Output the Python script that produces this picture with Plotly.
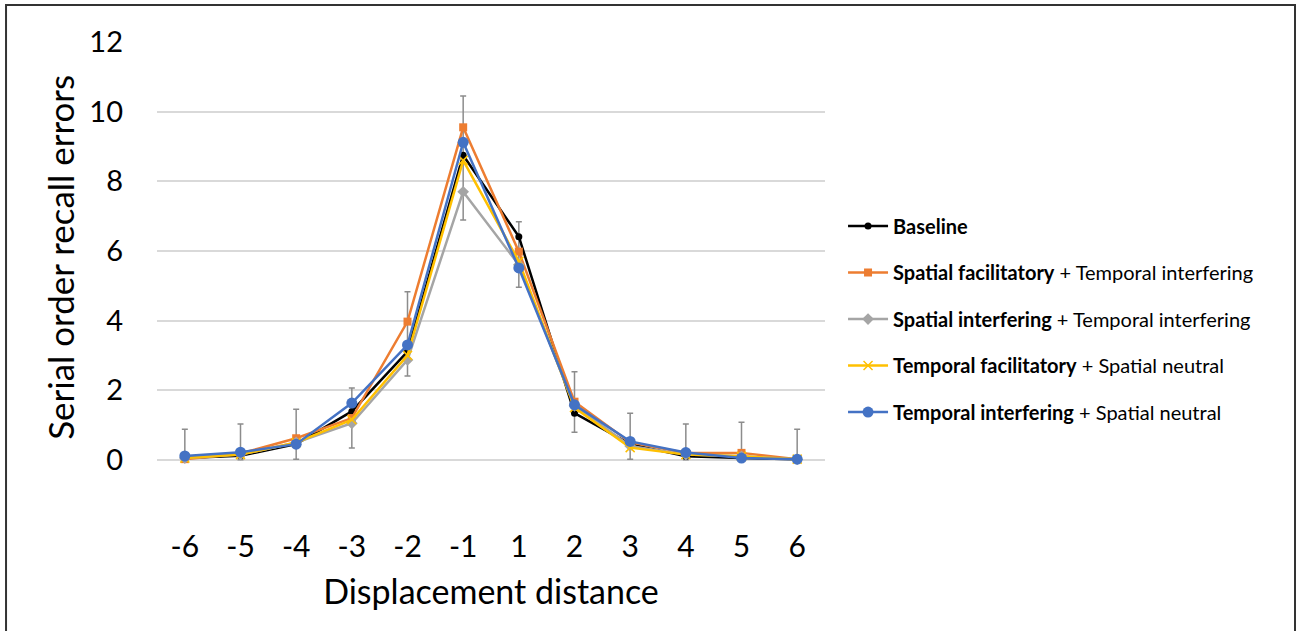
import plotly.graph_objects as go

categories = ["-6", "-5", "-4", "-3", "-2", "-1", "1", "2", "3", "4", "5", "6"]

baseline = [0.05, 0.12, 0.45, 1.39, 3.11, 8.75, 6.41, 1.34, 0.45, 0.10, 0.05, 0.02]
spat_fac = [0.02, 0.18, 0.62, 1.20, 3.97, 9.55, 5.98, 1.67, 0.50, 0.20, 0.20, 0.02]
spat_int = [0.05, 0.15, 0.50, 1.05, 2.87, 7.70, 5.60, 1.55, 0.40, 0.15, 0.10, 0.02]
temp_fac = [0.05, 0.15, 0.50, 1.15, 3.00, 8.60, 5.70, 1.50, 0.35, 0.15, 0.10, 0.02]
temp_int = [0.11, 0.22, 0.45, 1.63, 3.30, 9.12, 5.51, 1.58, 0.53, 0.21, 0.05, 0.02]

# error bar ends (upper / lower)
err_hi = [0.88, 1.03, 1.45, 2.06, 4.83, 10.45, 6.84, 2.53, 1.34, 1.03, 1.08, 0.88]
err_lo = [0.00, 0.00, 0.02, 0.34, 2.41, 6.89, 4.96, 0.79, 0.02, 0.00, 0.00, 0.00]

y_ticks = [0, 2, 4, 6, 8, 10, 12]

FONT = "Lato"

fig = go.Figure()

fig.add_trace(go.Scatter(
    x=categories, y=baseline, mode="lines+markers",
    name="<b>Baseline</b>", legendgroup="a",
    line=dict(color="#000000", width=2.5),
    marker=dict(symbol="circle", size=7, color="#000000"),
    error_y=dict(type="data", symmetric=False,
                 array=[h - b for h, b in zip(err_hi, baseline)],
                 arrayminus=[b - l for b, l in zip(baseline, err_lo)],
                 color="#8C8C8C", thickness=1.5, width=3),
))
fig.add_trace(go.Scatter(
    x=categories, y=spat_fac, mode="lines+markers",
    name="<b>Spatial facilitatory</b> + Temporal interfering", legendgroup="b",
    line=dict(color="#ED7D31", width=2.5),
    marker=dict(symbol="square", size=8, color="#ED7D31"),
))
fig.add_trace(go.Scatter(
    x=categories, y=spat_int, mode="lines+markers",
    name="<b>Spatial interfering</b> + Temporal interfering", legendgroup="c",
    line=dict(color="#A5A5A5", width=2.5),
    marker=dict(symbol="diamond", size=9, color="#A5A5A5"),
))
fig.add_trace(go.Scatter(
    x=categories, y=temp_fac, mode="lines+markers",
    name="<b>Temporal facilitatory</b> + Spatial neutral", legendgroup="d",
    line=dict(color="#FFC000", width=2.5),
    marker=dict(symbol="x-thin", size=9, color="#FFC000", line=dict(color="#FFC000", width=1.5)),
))
fig.add_trace(go.Scatter(
    x=categories, y=temp_int, mode="lines+markers",
    name="<b>Temporal interfering</b> + Spatial neutral", legendgroup="e",
    line=dict(color="#4472C4", width=2.5),
    marker=dict(symbol="circle", size=11, color="#4472C4"),
))

# outer frame
fig.add_shape(type="rect", xref="paper", yref="paper",
              x0=-0.226, x1=1.7036, y0=-0.35, y1=1.0764,
              line=dict(color="#333333", width=2), fillcolor="rgba(0,0,0,0)", layer="below")

# y-axis title
fig.add_annotation(text="Serial order recall errors", xref="paper", yref="paper",
                   x=-0.1452, y=0.554, xanchor="center", yanchor="middle",
                   textangle=-90, showarrow=False, font=dict(size=35, family=FONT, color="#000000"))

fig.update_layout(
    width=1297, height=631,
    margin=dict(l=157, r=472, t=42, b=105, autoexpand=False),
    paper_bgcolor="white", plot_bgcolor="white",
    font=dict(family=FONT, color="#000000"),
    showlegend=True,
    legend=dict(x=1.027, y=0.66, xanchor="left", yanchor="top",
                font=dict(size=20, family=FONT, color="#000000"),
                tracegroupgap=17.5, itemwidth=40, bgcolor="rgba(0,0,0,0)"),
    xaxis=dict(type="category", categoryorder="array", categoryarray=categories,
               range=[-0.5, 11.5], showgrid=False, zeroline=False, showline=False,
               tickfont=dict(size=30, family=FONT), ticks="",
               title=dict(text="Displacement distance", font=dict(size=34, family=FONT), standoff=18)),
    yaxis=dict(range=[-1.9, 12], tickvals=y_ticks, ticktext=[str(v) for v in y_ticks],
               showgrid=True, gridcolor="#D9D9D9", gridwidth=1.5, zeroline=False, showline=False,
               tickfont=dict(size=29, family=FONT), ticks="", ticklabelstandoff=33),
)

fig.write_html("out.html", config={"displayModeBar": False},
               post_script="document.body.style.margin='0px';")
